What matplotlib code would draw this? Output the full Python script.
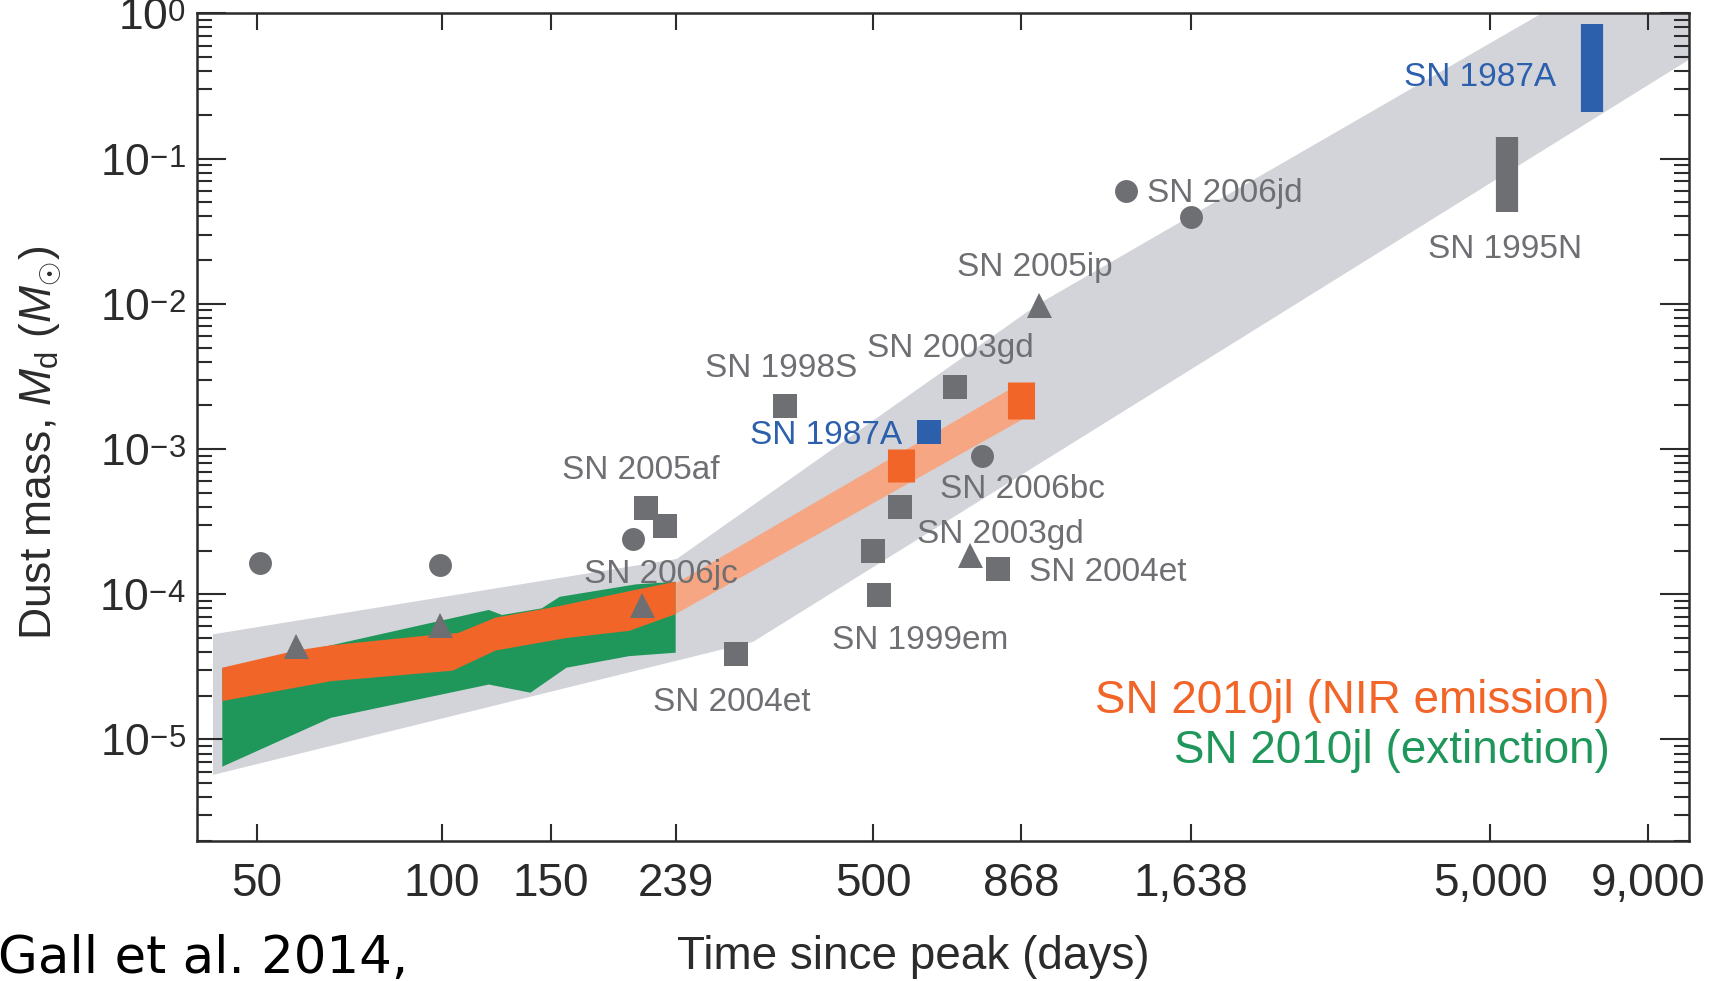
import numpy as np
import matplotlib
matplotlib.use('Agg')
import matplotlib.pyplot as plt
from matplotlib.ticker import FixedLocator, FixedFormatter, LogLocator, NullLocator, NullFormatter

plt.rcParams.update({
    'font.family': ['Liberation Sans', 'DejaVu Sans'],
    'mathtext.fontset': 'custom',
    'mathtext.rm': 'Liberation Sans',
    'mathtext.it': 'Liberation Sans:italic',
    'mathtext.bf': 'Liberation Sans:bold',
})

# lower superscripts a bit, like the original figure
try:
    import matplotlib._mathtext as _mt
    _mt.FontConstantsBase.sup1 = 0.3
    _mt.DejaVuSansFontConstants.sup1 = 0.3
except Exception:
    pass

# grey envelope of the literature values
band_up_days = [42.5, 240, 927, 6060, 15000]
band_up_mass = [5.3e-5, 1.75e-4, 1.0e-2, 1.0, 9.4]
band_lo_days = [42.5, 319, 5300, 15000]
band_lo_mass = [5.7e-6, 4.7e-5, 0.079, 1.23]

# SN 2010jl, extinction (green)
ext_up_days = [44, 66, 119, 125, 145, 155, 206, 239]
ext_up_mass = [3.1e-5, 4.45e-5, 7.8e-5, 7.2e-5, 8.0e-5, 9.6e-5, 1.17e-4, 1.22e-4]
ext_lo_days = [44, 66, 119, 139, 159, 201, 239]
ext_lo_mass = [6.5e-6, 1.41e-5, 2.39e-5, 2.1e-5, 3.12e-5, 3.75e-5, 3.96e-5]

# SN 2010jl, NIR emission (orange)
nir_up_days = [44, 58, 66, 99, 106, 122, 155, 201, 239]
nir_up_mass = [3.12e-5, 4.1e-5, 4.45e-5, 5.3e-5, 5.4e-5, 6.9e-5, 8.3e-5, 1.05e-4, 1.22e-4]
nir_lo_days = [44, 66, 104, 122, 159, 201, 239]
nir_lo_mass = [1.84e-5, 2.52e-5, 2.98e-5, 4.1e-5, 5.0e-5, 5.6e-5, 7.3e-5]

# late NIR extension and boxes
ext_late_days = [239, 868]
ext_late_lo = [7.4e-5, 1.6e-3]
ext_late_hi = [1.2e-4, 2.9e-3]
box_days = [554, 868]
box_lo = [5.9e-4, 1.6e-3]
box_hi = [1.0e-3, 2.9e-3]

# other supernovae
sq_days = [359, 678, 214, 230, 299, 500, 510, 552, 795]
sq_mass = [1.98e-3, 2.69e-3, 3.93e-4, 2.96e-4, 3.9e-5, 2.0e-4, 9.9e-5, 4.0e-4, 1.5e-4]
tri_days = [58, 99, 211, 718, 927]
tri_mass = [4.4e-5, 6.1e-5, 8.4e-5, 1.86e-4, 9.8e-3]
circ_days = [50.7, 99, 204, 751, 1283, 1637]
circ_mass = [1.63e-4, 1.58e-4, 2.4e-4, 8.9e-4, 0.0597, 0.0399]
sn87_days = [616]
sn87_mass = [1.3e-3]
bar87_days = [7310]
bar87_lo = [0.21]
bar87_hi = [0.84]
bar95_days = [5330]
bar95_lo = [0.043]
bar95_hi = [0.141]

tick_days = [50, 100, 150, 239, 500, 868, 1638, 5000, 9000]
tick_text = ['50', '100', '150', '239', '500', '868', '1,638', '5,000', '9,000']

grey = '#6e6f73'
blue = '#2c60ad'
orange = '#f26528'
green = '#1f975b'
salmon = '#f6a682'
band = '#d2d4d9'
ink = '#2b2b2b'

labels = [
    ('SN 2005af', 156.6, 7.1e-4, grey),
    ('SN 2006jc', 170, 1.37e-4, grey),
    ('SN 2004et', 219.5, 1.8e-5, grey),
    ('SN 1998S', 267, 3.6e-3, grey),
    ('SN 2003gd', 488, 4.9e-3, grey),
    ('SN 1987A', 315, 1.24e-3, blue),
    ('SN 2006bc', 640, 5.3e-4, grey),
    ('SN 2003gd', 589, 2.6e-4, grey),
    ('SN 2004et', 894, 1.42e-4, grey),
    ('SN 1999em', 429, 4.8e-5, grey),
    ('SN 2005ip', 683, 1.78e-2, grey),
    ('SN 2006jd', 1387, 0.0576, grey),
    ('SN 1995N', 3964, 0.0236, grey),
    ('SN 1987A', 3620, 0.362, blue),
]

fig = plt.figure(figsize=(17.29, 9.81), dpi=100)
ax = fig.add_axes([0.1138, 0.1427, 0.8631, 0.8437])
ax.set_xscale('log')
ax.set_yscale('log')

ax.fill(np.r_[band_up_days, band_lo_days[::-1]], np.r_[band_up_mass, band_lo_mass[::-1]],
        color=band, lw=0, zorder=1)
ax.fill_between(ext_late_days, ext_late_lo, ext_late_hi, color=salmon, lw=0, zorder=2)
ax.fill(np.r_[ext_up_days, ext_lo_days[::-1]], np.r_[ext_up_mass, ext_lo_mass[::-1]],
        color=green, lw=0, zorder=3)
ax.fill(np.r_[nir_up_days, nir_lo_days[::-1]], np.r_[nir_up_mass, nir_lo_mass[::-1]],
        color=orange, lw=0, zorder=4)
ax.vlines(box_days, box_lo, box_hi, color=orange, lw=19.5, capstyle='butt', zorder=5)
ax.vlines(bar87_days, bar87_lo, bar87_hi, color=blue, lw=16, capstyle='butt', zorder=5)
ax.vlines(bar95_days, bar95_lo, bar95_hi, color=grey, lw=16, capstyle='butt', zorder=5)

ax.plot(sq_days, sq_mass, 's', color=grey, ms=17, mew=0, zorder=6)
ax.plot(tri_days, tri_mass, '^', color=grey, ms=18, mew=0, zorder=6)
ax.plot(circ_days, circ_mass, 'o', color=grey, ms=16.5, mew=0, zorder=6)
ax.plot(sn87_days, sn87_mass, 's', color=blue, ms=17, mew=0, zorder=6)

for txt, x, y, c in labels:
    ax.text(x, y, txt, color=c, fontsize=24, ha='left', va='center', zorder=7)

ax.text(0.947, 0.169, 'SN 2010jl (NIR emission)', color=orange, fontsize=33,
        ha='right', va='center', transform=ax.transAxes)
ax.text(0.947, 0.1087, 'SN 2010jl (extinction)', color=green, fontsize=33,
        ha='right', va='center', transform=ax.transAxes)

ax.set_xlim(40, 10500)
ax.set_ylim(2e-6, 1.0)
ax.xaxis.set_major_locator(FixedLocator(tick_days))
ax.xaxis.set_major_formatter(FixedFormatter(tick_text))
ax.xaxis.set_minor_locator(NullLocator())
ax.yaxis.set_major_locator(LogLocator(base=10, numticks=20))
ax.yaxis.set_minor_locator(LogLocator(base=10, subs=np.arange(2, 10), numticks=20))
ax.yaxis.set_minor_formatter(NullFormatter())

ax.tick_params(which='both', direction='in', top=True, right=True, color=ink, labelcolor=ink)
ax.tick_params(axis='y', which='major', length=21, width=1.5, labelsize=32, pad=8)
ax.tick_params(axis='y', which='minor', length=11, width=1.5)
ax.tick_params(axis='x', which='major', length=12, width=1.5, labelsize=33, pad=15)
for s in ax.spines.values():
    s.set_linewidth(1.8)
    s.set_color(ink)

ax.set_xlabel('Time since peak (days)', fontsize=33, color=ink)
ax.xaxis.set_label_coords(0.48, -0.114)
ax.set_ylabel(r'Dust mass, $M_{\rm d}$ ($M_{\odot}$)', fontsize=32, color=ink)
ax.yaxis.set_label_coords(-0.089, 0.481)

fig.text(-0.001, 0.008, 'Gall et al. 2014,', family='DejaVu Sans', fontsize=37, va='baseline')

fig.savefig('out.png', dpi=100)
